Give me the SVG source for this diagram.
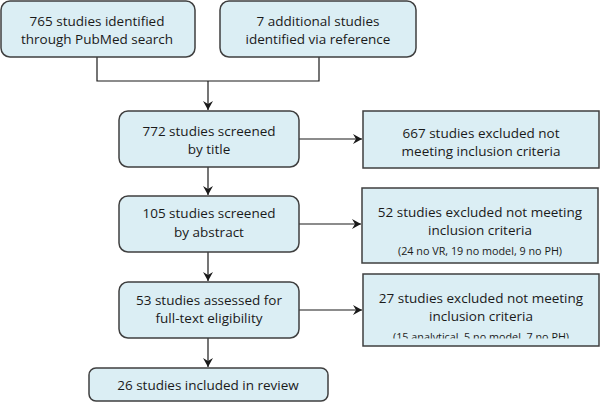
<svg xmlns="http://www.w3.org/2000/svg" width="600" height="402" viewBox="0 0 600 402">
<style>
.b{fill:#dbeef4;stroke:#3f3f3f;stroke-width:1.5}
.t{font-family:"Open Sans","Noto Sans",sans-serif;font-size:13.5px;fill:#1a1a1a;text-anchor:middle}
.s{font-family:"Open Sans","Noto Sans",sans-serif;font-size:10.8px;fill:#1a1a1a;text-anchor:middle}
.c{fill:none;stroke:#1a1a1a;stroke-width:1.2}
</style>
<defs>
<marker id="a" markerWidth="10" markerHeight="10" refX="9" refY="5" orient="auto" markerUnits="userSpaceOnUse">
<path d="M0,0 L9,5 L0,10 L3,5 Z" fill="#1a1a1a"/>
</marker>
<clipPath id="cl"><rect x="363" y="274" width="236" height="64.5"/></clipPath>
</defs>
<g id="connectors">
<path class="c" d="M97,57 V81 H319 V57"/>
<path class="c" d="M208,81 V110" marker-end="url(#a)"/>
<path class="c" d="M299,139 H362" marker-end="url(#a)"/>
<path class="c" d="M208,167 V195" marker-end="url(#a)"/>
<path class="c" d="M299,224 H361" marker-end="url(#a)"/>
<path class="c" d="M208,252 V281" marker-end="url(#a)"/>
<path class="c" d="M299,310 H362" marker-end="url(#a)"/>
<path class="c" d="M208,338 V367" marker-end="url(#a)"/>
</g>
<g id="n1"><rect class="b" x="1" y="1" width="194" height="56" rx="9"/>
<text class="t" x="97" y="26">765 studies identified</text>
<text class="t" x="97" y="44">through PubMed search</text></g>
<g id="n2"><rect class="b" x="220" y="1" width="196" height="56" rx="9"/>
<text class="t" x="318" y="26">7 additional studies</text>
<text class="t" x="318" y="44">identified via reference</text></g>
<g id="n3"><rect class="b" x="119" y="111" width="180" height="56" rx="9"/>
<text class="t" x="209" y="136">772 studies screened</text>
<text class="t" x="209" y="154">by title</text></g>
<g id="n4"><rect class="b" x="363" y="111" width="236" height="57"/>
<text class="t" x="481" y="138">667 studies excluded not</text>
<text class="t" x="481" y="156">meeting inclusion criteria</text></g>
<g id="n5"><rect class="b" x="119" y="196" width="180" height="56" rx="9"/>
<text class="t" x="209" y="218">105 studies screened</text>
<text class="t" x="209" y="237">by abstract</text></g>
<g id="n6"><rect class="b" x="362" y="188" width="236" height="75"/>
<text class="t" x="480" y="217">52 studies excluded not meeting</text>
<text class="t" x="480" y="235">inclusion criteria</text>
<text class="s" x="480" y="255">(24 no VR, 19 no model, 9 no PH)</text></g>
<g id="n7"><rect class="b" x="119" y="282" width="180" height="56" rx="9"/>
<text class="t" x="209" y="305">53 studies assessed for</text>
<text class="t" x="209" y="323">full-text eligibility</text></g>
<g id="n8"><rect class="b" x="363" y="274" width="236" height="72"/>
<text class="t" x="481" y="303">27 studies excluded not meeting</text>
<text class="t" x="481" y="321">inclusion criteria</text>
<text class="s" x="481" y="341" clip-path="url(#cl)">(15 analytical, 5 no model, 7 no PH)</text></g>
<g id="n9"><rect class="b" x="89" y="368" width="239" height="33" rx="7"/>
<text class="t" x="208" y="390">26 studies included in review</text></g>
</svg>
